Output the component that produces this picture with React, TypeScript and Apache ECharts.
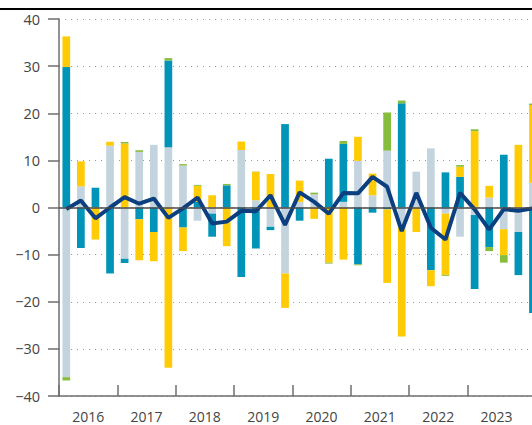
import { useEffect, useRef } from "react";
import * as echarts from "echarts";

const years = ["2016", "2017", "2018", "2019", "2020", "2021", "2022", "2023", "2024"];
const labelledYears = ["2016", "2017", "2018", "2019", "2020", "2021", "2022", "2023"];
const quarterNames = ["Q1", "Q2", "Q3", "Q4"];
const quarters = years.flatMap((y) => quarterNames.map((q) => `${y} ${q}`));

const greyValues = [
  -36.0, 4.5, 0, 13.1, -10.9, 11.8, 13.3, 12.8,
  8.9, -2.8, -1.3, 0, 12.2, 1.56, -4.1, -14.0,
  1.2, 2.8, 0, 1.2, 9.9, 2.6, 12.06, -3.5,
  7.6, 12.55, -1.3, -6.2, -1.6, 2.1, -4.6, -5.2,
  5.25,
];
const blueValues = [
  29.8, -8.6, 4.2, -14.0, -0.9, -2.5, -5.2, 18.4,
  -4.25, 1.2, -4.9, 4.7, -14.75, -8.7, -0.7, 17.7,
  -2.8, 0, 10.35, 12.3, -12.06, -1.1, -0.4, 22.1,
  0, -13.3, 7.45, 6.5, -15.7, -8.4, 11.2, -9.15,
  -22.4,
];
const yellowValues = [
  6.5, 5.3, -6.8, 0.85, 13.6, -8.7, -6.2, -34.0,
  -5.0, 3.4, 2.6, -8.2, 1.8, 6.0, 7.1, -7.3,
  4.5, -2.4, -11.7, -11.06, 5.1, 4.6, -15.6, -23.9,
  -5.2, -3.4, -13.0, 2.15, 16.2, 2.5, -5.5, 13.3,
  16.5,
];
const greenValues = [
  -0.7, 0, 0, 0, 0.3, 0.35, 0, 0.5,
  0.3, 0.2, 0, 0.3, 0, 0.1, 0, 0,
  0, 0.35, -0.2, 0.6, -0.2, 0, 8.1, 0.6,
  0, 0, -0.2, 0.35, 0.4, -0.85, -1.6, 0,
  0.3,
];
const totalLine = [
  -0.35, 1.5, -2.3, 0, 2.2, 0.8, 1.9, -2.2,
  -0.2, 2.1, -3.4, -3.0, -0.7, -0.8, 2.6, -3.7,
  3.2, 1.2, -1.3, 3.1, 3.0, 6.5, 4.4, -5.0,
  3.1, -4.3, -6.8, 3.1, -0.4, -4.7, -0.35, -0.7,
  -0.2,
];

const FONT = "Open Sans";
const COLORS = {
  grey: "#c3d4de",
  blue: "#0095b8",
  yellow: "#ffcb05",
  green: "#86bd3c",
  navy: "#0b3f80",
};

export default function App() {
  const ref = useRef<HTMLDivElement>(null);

  useEffect(() => {
    if (!ref.current) return;
    const chart = echarts.init(ref.current, undefined, { renderer: "svg" });
    const barCommon = {
      type: "bar" as const,
      stack: "total",
      barWidth: 7.7,
      xAxisIndex: 0,
      yAxisIndex: 0,
    };
    chart.setOption({
      animation: false,
      grid: { left: 59, top: 19, width: 525, height: 377, containLabel: false },
      xAxis: [
        {
          type: "category",
          data: quarters,
          show: false,
          boundaryGap: true,
        },
        {
          type: "category",
          data: years,
          position: "bottom",
          boundaryGap: true,
          axisLine: { show: true, onZero: false, lineStyle: { color: "#6e6e6e", width: 1.5 } },
          axisTick: { show: true, inside: true, length: 11, lineStyle: { color: "#6e6e6e", width: 1.5 } },
          axisLabel: {
            color: "#444",
            fontFamily: FONT,
            fontSize: 14,
            margin: 13,
            interval: (_i: number, v: string) => labelledYears.includes(v),
          },
          splitLine: { show: false },
        },
      ],
      yAxis: {
        type: "value",
        min: -40,
        max: 40,
        interval: 10,
        axisLine: { show: true, lineStyle: { color: "#6e6e6e", width: 1.5 } },
        axisTick: { show: true, length: 11, lineStyle: { color: "#6e6e6e", width: 1.5 } },
        axisLabel: {
          color: "#444",
          fontFamily: FONT,
          fontSize: 14.5,
          margin: 19,
          formatter: (v: number) => (v < 0 ? "\u2212" + Math.abs(v) : String(v)),
        },
        splitLine: { show: true, lineStyle: { color: "#9a9a9a", type: [1, 5], width: 1 } },
      },
      series: [
        { ...barCommon, name: "grey", data: greyValues, itemStyle: { color: COLORS.grey } },
        { ...barCommon, name: "blue", data: blueValues, itemStyle: { color: COLORS.blue } },
        { ...barCommon, name: "yellow", data: yellowValues, itemStyle: { color: COLORS.yellow } },
        { ...barCommon, name: "green", data: greenValues, itemStyle: { color: COLORS.green } },
        {
          type: "line",
          name: "zero",
          data: totalLine.map(() => null),
          xAxisIndex: 0,
          silent: true,
          showSymbol: false,
          markLine: {
            silent: true,
            symbol: ["none", "none"],
            label: { show: false },
            lineStyle: { color: "#4a4a4a", type: "solid", width: 1.5 },
            data: [{ yAxis: 0 }],
          },
          z: 3,
        },
        {
          type: "line",
          name: "total",
          data: totalLine,
          xAxisIndex: 0,
          symbol: "none",
          lineStyle: { color: COLORS.navy, width: 4 },
          z: 4,
        },
      ],
    });
    return () => chart.dispose();
  }, []);

  return (
    <div style={{ position: "fixed", left: 0, top: 0, width: 532, height: 425, overflow: "hidden", background: "#fff" }}>
      <div ref={ref} style={{ width: 620, height: 425 }} />
      <div style={{ position: "absolute", left: 0, top: 7.5, width: 532, height: 2.5, background: "#000" }} />
    </div>
  );
}
